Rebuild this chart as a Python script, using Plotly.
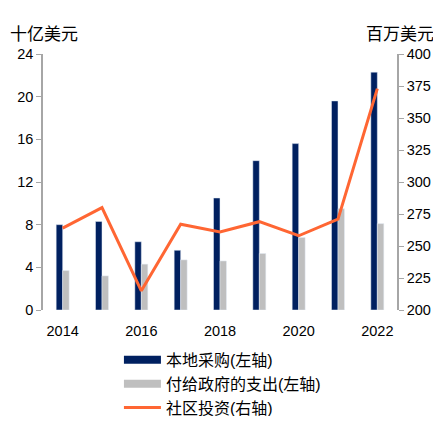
import plotly.graph_objects as go

years = [2014, 2015, 2016, 2017, 2018, 2019, 2020, 2021, 2022]
local_purchase = [8.0, 8.3, 6.4, 5.6, 10.5, 14.0, 15.6, 19.6, 22.3]   # 十亿美元
gov_payments = [3.7, 3.2, 4.3, 4.7, 4.6, 5.3, 6.8, 9.5, 8.1]        # 十亿美元
community_inv = [264, 280, 215, 267, 261, 269, 258, 271, 373]        # 百万美元
year_ticks = [2014, 2016, 2018, 2020, 2022]

NAVY = "#002060"
GREY = "#BFBFBF"
ORANGE = "#FF6633"
AXIS = "#A6A6A6"
FONT = "Liberation Sans, Noto Sans CJK SC"

fig = go.Figure()
fig.add_trace(go.Bar(x=years, y=local_purchase, marker_color=NAVY, showlegend=False))
fig.add_trace(go.Bar(x=years, y=gov_payments, marker_color=GREY, showlegend=False))
fig.add_trace(go.Scatter(x=years, y=community_inv, mode="lines", yaxis="y2",
                         line=dict(color=ORANGE, width=3), showlegend=False))

# legend entries drawn as wide strips like the original
for name, col, w in [("本地采购(左轴)", NAVY, 8), ("付给政府的支出(左轴)", GREY, 8), ("社区投资(右轴)", ORANGE, 3)]:
    fig.add_trace(go.Scatter(x=[None], y=[None], mode="lines", name=name,
                             line=dict(color=col, width=w)))

# the page body adds an 8px margin, so the figure is sized to fit the window
dom = [0.2928, 1]

fig.update_layout(
    width=433, height=408,
    margin=dict(l=35, r=44, t=46, b=0, autoexpand=False),
    plot_bgcolor="white", paper_bgcolor="white",
    font=dict(family=FONT, size=14.5, color="black"),
    barmode="group", bargap=0.67, bargroupgap=0,
    xaxis=dict(range=[2013.5, 2022.5], tickvals=year_ticks, anchor="y",
               showline=False, showgrid=False, zeroline=False,
               ticks="outside", ticklen=8, tickcolor="rgba(0,0,0,0)"),
    yaxis=dict(range=[0, 24], dtick=4, domain=dom, showgrid=False, zeroline=False,
               showline=True, linecolor=AXIS, linewidth=1.5,
               ticks="outside", ticklen=5, tickcolor=AXIS),
    yaxis2=dict(range=[200, 400], dtick=25, domain=dom, overlaying="y", side="right",
                showgrid=False, zeroline=False, showline=True, linecolor=AXIS,
                linewidth=1.5, ticks="outside", ticklen=5, tickcolor=AXIS),
    legend=dict(x=0.2145, y=0.2018, xanchor="left", yanchor="top",
                font=dict(size=16), itemwidth=37, tracegroupgap=0,
                bgcolor="rgba(0,0,0,0)"),
    annotations=[
        dict(text="十亿美元", xref="paper", yref="paper", x=-0.099, y=1.022,
             xanchor="left", yanchor="bottom", showarrow=False, font=dict(size=17)),
        dict(text="百万美元", xref="paper", yref="paper", x=1.11, y=1.022,
             xanchor="right", yanchor="bottom", showarrow=False, font=dict(size=17)),
    ],
)

fig.write_html("out.html")
